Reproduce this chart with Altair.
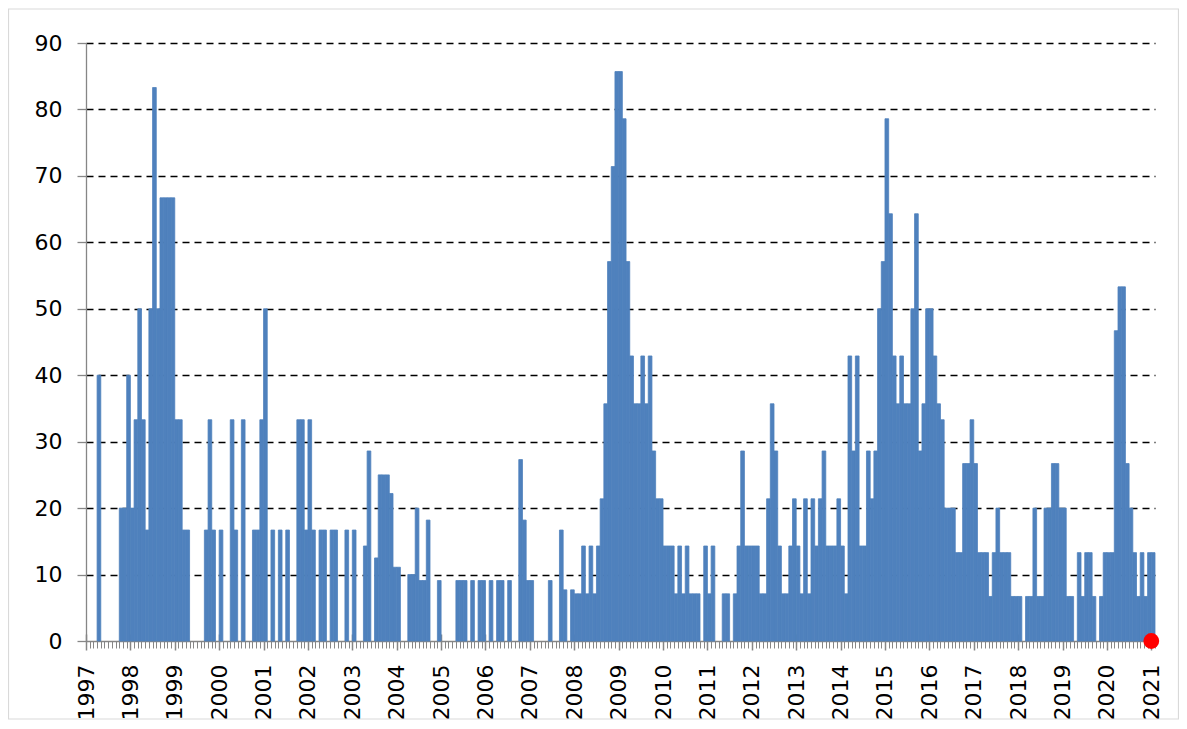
import altair as alt
import pandas as pd

# ---- data: monthly values (Jan .. Dec) ----
v1997 = [0, 0, 0, 40, 0, 0, 0, 0, 0, 20, 20, 40]
v1998 = [20, 33.3, 50, 33.3, 16.7, 50, 83.3, 50, 66.7, 66.7, 66.7, 66.7]
v1999 = [33.3, 33.3, 16.7, 16.7, 0, 0, 0, 0, 16.7, 33.3, 16.7, 0]
v2000 = [16.7, 0, 0, 33.3, 16.7, 0, 33.3, 0, 0, 16.7, 16.7, 33.3]
v2001 = [50, 0, 16.7, 0, 16.7, 0, 16.7, 0, 0, 33.3, 33.3, 16.7]
v2002 = [33.3, 16.7, 0, 16.7, 16.7, 0, 16.7, 16.7, 0, 0, 16.7, 0]
v2003 = [16.7, 0, 0, 14.3, 28.6, 0, 12.5, 25, 25, 25, 22.2, 11.1]
v2004 = [11.1, 0, 0, 10, 10, 20, 9.1, 9.1, 18.2, 0, 0, 9.1]
v2005 = [0, 0, 0, 0, 9.1, 9.1, 9.1, 0, 9.1, 0, 9.1, 9.1]
v2006 = [0, 9.1, 0, 9.1, 9.1, 0, 9.1, 0, 0, 27.3, 18.2, 9.1]
v2007 = [9.1, 0, 0, 0, 0, 9.1, 0, 0, 16.7, 7.7, 0, 7.7]
v2008 = [7.1, 7.1, 14.3, 7.1, 14.3, 7.1, 14.3, 21.4, 35.7, 57.1, 71.4, 85.7]
v2009 = [85.7, 78.6, 57.1, 42.9, 35.7, 35.7, 42.9, 35.7, 42.9, 28.6, 21.4, 21.4]
v2010 = [14.3, 14.3, 14.3, 7.1, 14.3, 7.1, 14.3, 7.1, 7.1, 7.1, 0, 14.3]
v2011 = [7.1, 14.3, 0, 0, 7.1, 7.1, 0, 7.1, 14.3, 28.6, 14.3, 14.3]
v2012 = [14.3, 14.3, 7.1, 7.1, 21.4, 35.7, 28.6, 14.3, 7.1, 7.1, 14.3, 21.4]
v2013 = [14.3, 7.1, 21.4, 7.1, 21.4, 14.3, 21.4, 28.6, 14.3, 14.3, 14.3, 21.4]
v2014 = [14.3, 7.1, 42.9, 28.6, 42.9, 14.3, 14.3, 28.6, 21.4, 28.6, 50, 57.1]
v2015 = [78.6, 64.3, 42.9, 35.7, 42.9, 35.7, 35.7, 50, 64.3, 28.6, 35.7, 50]
v2016 = [50, 42.9, 35.7, 33.3, 20, 20, 20, 13.3, 13.3, 26.7, 26.7, 33.3]
v2017 = [26.7, 13.3, 13.3, 13.3, 6.7, 13.3, 20, 13.3, 13.3, 13.3, 6.7, 6.7]
v2018 = [6.7, 0, 6.7, 6.7, 20, 6.7, 6.7, 20, 20, 26.7, 26.7, 20]
v2019 = [20, 6.7, 6.7, 0, 13.3, 6.7, 13.3, 13.3, 6.7, 0, 6.7, 13.3]
v2020 = [13.3, 13.3, 46.7, 53.3, 53.3, 26.7, 20, 13.3, 6.7, 13.3, 6.7, 13.3]
v2021 = [13.3]

year_labels = [str(y) for y in range(1997, 2022)]
dot_month = [288]
dot_value = [0]

series = (v1997 + v1998 + v1999 + v2000 + v2001 + v2002 + v2003 + v2004 +
          v2005 + v2006 + v2007 + v2008 + v2009 + v2010 + v2011 + v2012 +
          v2013 + v2014 + v2015 + v2016 + v2017 + v2018 + v2019 + v2020 + v2021)

df = pd.DataFrame({"month": list(range(len(series))), "value": series})
df["month_end"] = df["month"] + 1
df["base"] = 0
df = df[df["value"] > 0]

dot_df = pd.DataFrame({"month": dot_month, "value": dot_value})
frame_df = pd.DataFrame({"k": [0]})

FONT = "DejaVu Sans"
AXIS_GREY = "#868686"

xscale = alt.Scale(domain=[0, 289], nice=False, zero=False)
yscale = alt.Scale(domain=[0, 90], nice=False, zero=True)

yaxis = alt.Axis(
    values=list(range(0, 91, 10)), title=None, orient="left",
    grid=True, gridColor="#000000", gridDash=[7, 5], gridWidth=1.3,
    gridOpacity={"condition": {"test": "datum.value === 0", "value": 0}, "value": 1},
    domainColor=AXIS_GREY, domainWidth=1.3,
    tickColor=AXIS_GREY, tickSize=9, tickWidth=1.3,
    labelFont=FONT, labelFontSize=22, labelColor="#000000", labelPadding=15,
)

minor_axis = alt.Axis(
    values=list(range(0, 290)), title=None, labels=False, grid=False, orient="bottom",
    tickSize=7, tickColor=AXIS_GREY, tickWidth=1,
    domain=True, domainColor=AXIS_GREY, domainWidth=1.3,
)

label_list = "[" + ",".join("'" + s + "'" for s in year_labels) + "]"
major_axis = alt.Axis(
    values=[12 * i for i in range(len(year_labels))], title=None, grid=False, orient="bottom",
    labelExpr=label_list + "[round(datum.value / 12)]",
    labelAngle=270, labelAlign="right", labelBaseline="middle",
    labelFont=FONT, labelFontSize=22, labelColor="#000000", labelPadding=14,
    labelFlush=False, labelBound=False, labelOverlap=False,
    tickSize=16, tickWidth=1.5, tickColor=AXIS_GREY, offset=-7,
    domain=False,
)

bars = alt.Chart(df).mark_bar(color="#4F81BD", stroke="#4F81BD", strokeWidth=0.8).encode(
    x=alt.X("month:Q", scale=xscale, axis=minor_axis),
    x2="month_end:Q",
    y=alt.Y("value:Q", scale=yscale, axis=yaxis),
    y2="base:Q",
)

dot = alt.Chart(dot_df).mark_circle(color="#FF0000", size=250, opacity=1).encode(
    x=alt.X("month:Q", scale=xscale, axis=major_axis),
    y=alt.Y("value:Q", scale=yscale, axis=yaxis),
)

frame = alt.Chart(frame_df).mark_rect(fillOpacity=0, stroke="#D9D9D9", strokeWidth=1.2).encode(
    x=alt.value(-77.5), x2=alt.value(1092.5), y=alt.value(-34), y2=alt.value(676),
)

chart = alt.layer(frame, bars, dot).resolve_axis(x="independent").properties(
    width=1069, height=598,
    autosize=alt.AutoSizeParams(type="none"),
    padding={"left": 78, "top": 35, "right": 24, "bottom": 80},
    background="#ffffff",
).configure_view(strokeWidth=0)

chart.save("out.html", embed_options={"renderer": "svg", "actions": False})
